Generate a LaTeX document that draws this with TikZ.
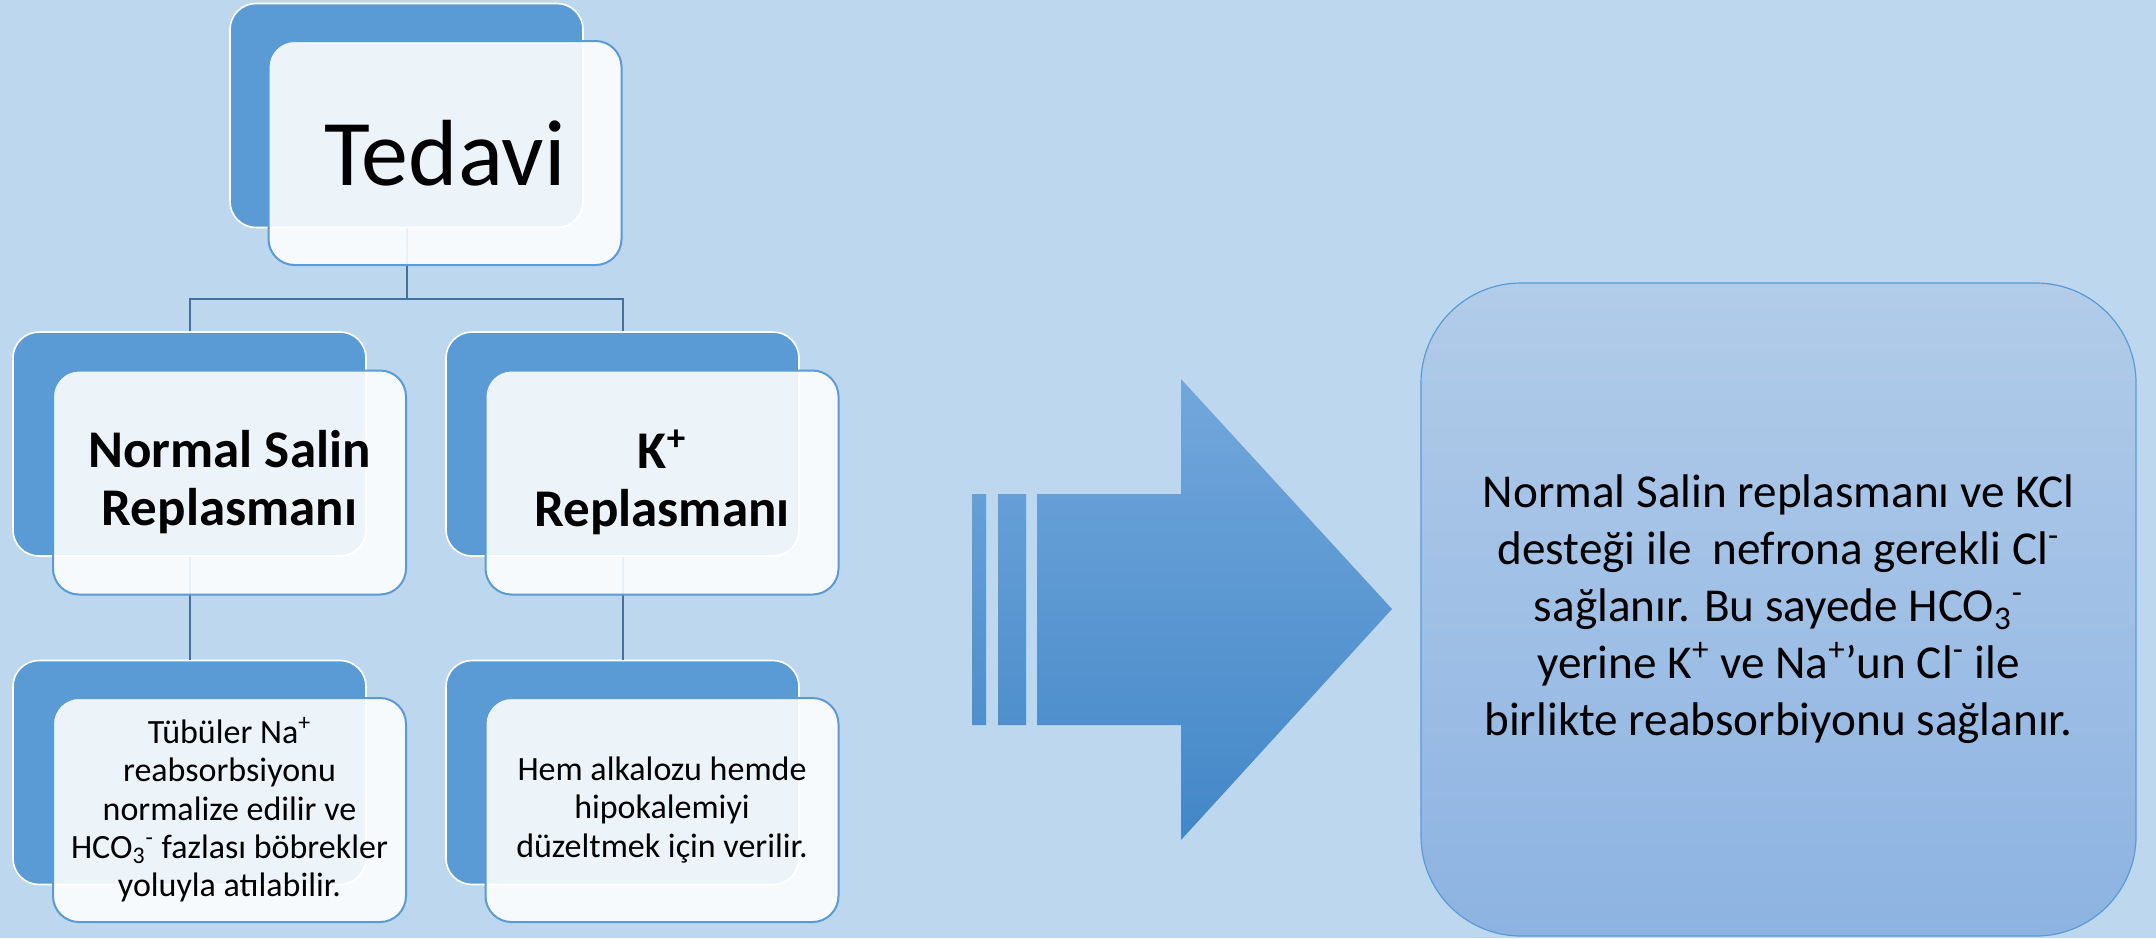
\documentclass[tikz,border=0pt]{standalone}
\usepackage{fontspec}
\setmainfont{Carlito}
\definecolor{bg}{HTML}{BDD7EE}
\definecolor{accent}{HTML}{5B9BD5}
\definecolor{lineC}{HTML}{41719C}
\definecolor{arTop}{HTML}{72A7DB}
\definecolor{arBot}{HTML}{4387C8}
\definecolor{rbTop}{HTML}{B2CCE9}
\definecolor{rbBot}{HTML}{8DB3E2}
\begin{document}
\begin{tikzpicture}[x=0.5pt,y=-0.5pt,
  backbox/.style={rectangle, rounded corners=13pt, fill=accent, draw=white, line width=0.8pt,
    minimum width=176.5pt, minimum height=112pt, inner sep=0pt},
  frontbox/.style={rectangle, rounded corners=13pt, fill=white, fill opacity=0.89, text opacity=1,
    draw=accent, line width=1pt, minimum width=176.5pt, minimum height=112pt, inner sep=0pt,
    align=center},
  conn/.style={draw=lineC, line width=1pt},
  headfont/.style={font=\bfseries\fontsize{26.5}{29}\selectfont},
  smallfont/.style={font=\fontsize{17}{19.2}\selectfont}]
\useasboundingbox[fill=bg] (0,0) rectangle (2156,938);

% back boxes
\node[backbox] (tB) at (406.5,115.5) {};
\node[backbox] (nsB) at (189.5,444) {};
\node[backbox] (kB) at (622.5,444) {};
\node[backbox] (ns2B) at (189.5,772.5) {};
\node[backbox] (k2B) at (622.5,772.5) {};

% connectors
\coordinate (j) at (406.5,299);
\draw[conn] (tB.south) -- (j);
\draw[conn] (nsB.north) |- (j) -| (kB.north);
\draw[conn] (nsB.south) -- (ns2B.north);
\draw[conn] (kB.south) -- (k2B.north);

% front boxes
\node[frontbox, font=\fontsize{47}{56}\selectfont] (tF) at (445,153) {\raisebox{-4pt}{Tedavi}};
\node[frontbox, headfont] (nsF) at (229.5,482.5) {Normal Salin\\Replasmanı};
\node[frontbox, headfont] (kF) at (662,482.5) {K\textsuperscript{+}\\Replasmanı};
\node[frontbox, smallfont] (ns2F) at (229.5,810) {Tübüler Na\textsuperscript{+}\\reabsorbsiyonu\\normalize edilir ve\\HCO\textsubscript{3}\textsuperscript{-} fazlası böbrekler\\yoluyla atılabilir.};
\node[frontbox, smallfont] (k2F) at (662,810) {Hem alkalozu hemde\\hipokalemiyi\\düzeltmek için verilir.};

% big arrow
\shade[top color=arTop, bottom color=arBot]
  (1037,494) -- (1181,494) -- (1181,379) -- (1392,609) -- (1181,840) -- (1181,725) -- (1037,725) -- cycle
  (972,494) rectangle (986,725)
  (998,494) rectangle (1026,725);

% result box
\node[rectangle, rounded corners=50pt, top color=rbTop, bottom color=rbBot, draw=accent, line width=0.6pt,
  minimum width=357.5pt, minimum height=326.5pt, inner sep=0pt, align=center,
  font=\fontsize{23.6}{28.5}\selectfont] (rb) at (1778.5,609.5)
  {Normal Salin replasmanı ve KCl\\desteği ile~ nefrona gerekli Cl\textsuperscript{-}\\sağlanır. Bu sayede HCO\textsubscript{3}\textsuperscript{-}\\yerine K\textsuperscript{+} ve Na\textsuperscript{+}’un Cl\textsuperscript{-} ile\\birlikte reabsorbiyonu sağlanır.};
\end{tikzpicture}
\end{document}
